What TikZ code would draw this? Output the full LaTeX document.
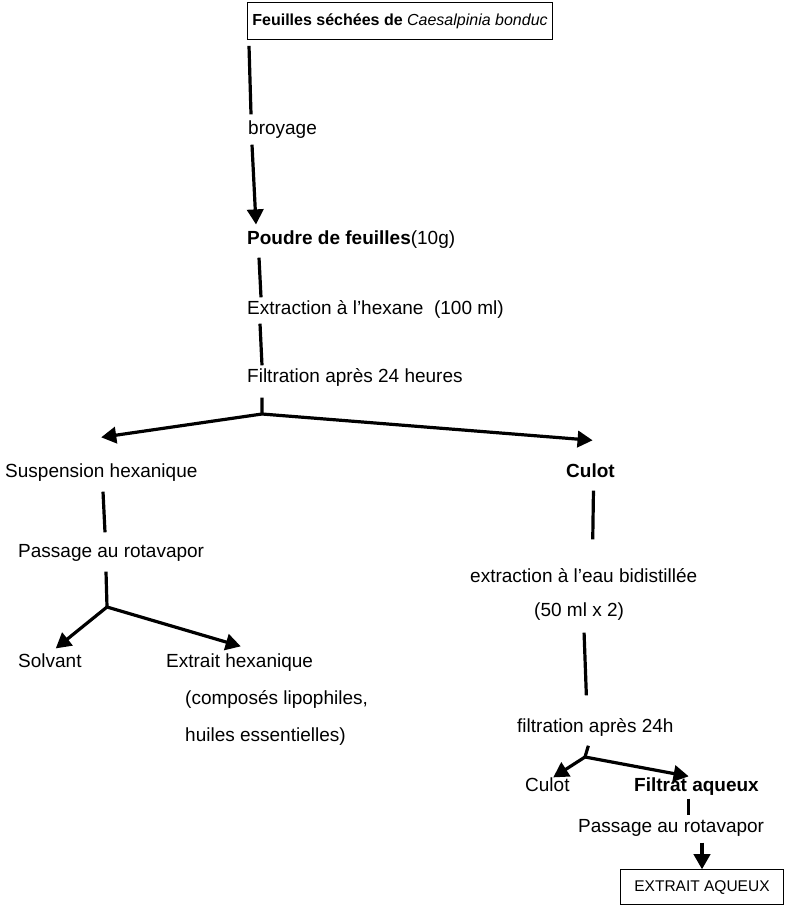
\documentclass[tikz,border=0pt]{standalone}
\usepackage{fontspec}
\setmainfont{Liberation Sans}
\usepackage{tikz}
\usetikzlibrary{arrows,shapes}

\tikzset{
  txt/.style={anchor=west,inner sep=0pt,text height=13bp,text depth=4bp},
  boite/.style={txt,draw,line width=0.8pt,inner xsep=5bp,inner ysep=10bp},
  trait/.style={line width=3.2bp},
  fleche/.style={->,>=triangle 60,line width=3.2bp}
}

\begin{document}
\begin{tikzpicture}[font=\fontsize{19bp}{23bp}\selectfont]
\useasboundingbox (0bp,0bp) rectangle (789bp,-922bp);

\node (Feuilles) at (247bp,-21bp)[boite,font=\fontsize{16bp}{19bp}\selectfont] {\textbf{Feuilles séchées de} \textit{Caesalpinia bonduc}};
\node (Broyage) at (248bp,-130bp)[txt] {broyage};
\node (Poudre) at (247bp,-240bp)[txt] {\textbf{Poudre de feuilles}(10g)};
\node (Hexane) at (247bp,-310bp)[txt] {Extraction à l'hexane~ (100 ml)};
\node (Filtr1) at (247bp,-378bp)[txt] {Filtration après 24 heures};
\coordinate (J1) at (262bp,-414bp);

\node (Susp) at (5bp,-473bp)[txt] {Suspension hexanique};
\node (Rota1) at (18bp,-553bp)[txt] {Passage au rotavapor};
\coordinate (J2) at (107bp,-607bp);
\node (Solvant) at (18bp,-663bp)[txt] {Solvant};
\node (ExHex) at (166bp,-663bp)[txt] {Extrait hexanique};
\node (Lipo) at (185bp,-700bp)[txt] {(composés lipophiles,};
\node (Huiles) at (185bp,-737bp)[txt] {huiles essentielles)};

\node (Culot1) at (566bp,-473bp)[txt] {\textbf{Culot}};
\node (Eau) at (470bp,-578bp)[txt] {extraction à l'eau bidistillée};
\node (Ml) at (534bp,-612bp)[txt] {(50 ml x 2)};
\node (Filtr2) at (517bp,-728bp)[txt] {filtration après 24h};
\coordinate (J3) at (585bp,-757bp);
\node (Culot2) at (525bp,-787bp)[txt] {Culot};
\node (Filtrat) at (634bp,-787bp)[txt] {\textbf{Filtrat aqueux}};
\node (Rota2) at (578bp,-828bp)[txt] {Passage au rotavapor};
\node (Aqueux) at (620bp,-887bp)[boite,inner xsep=14bp,inner ysep=9bp,font=\fontsize{15.5bp}{19bp}\selectfont] {EXTRAIT AQUEUX};

% tronc principal
\draw [trait] ([xshift=2bp,yshift=-6bp]Feuilles.south west) to ([xshift=3bp,yshift=7bp]Broyage.north west);
\draw [fleche] ([xshift=4bp,yshift=-6bp]Broyage.south west) to ([xshift=9bp,yshift=7bp]Poudre.north west);
\draw [trait] ([xshift=12bp,yshift=-9bp]Poudre.south west) to ([xshift=14bp,yshift=4bp]Hexane.north west);
\draw [trait] ([xshift=13bp,yshift=-5bp]Hexane.south west) to ([xshift=15bp,yshift=4bp]Filtr1.north west);
\draw [trait] ([xshift=15bp,yshift=-11bp]Filtr1.south west) to (J1);
\draw [fleche] (J1) to ([xshift=0bp,yshift=27bp]Susp.north);
\draw [fleche] (J1) to ([xshift=2bp,yshift=24bp]Culot1.north);

% branche hexanique
\draw [trait] ([xshift=98bp,yshift=-10bp]Susp.south west) to ([xshift=87bp,yshift=12bp]Rota1.north west);
\draw [trait] ([xshift=88bp,yshift=-10bp]Rota1.south west) to (J2);
\draw [fleche] (J2) to ([xshift=6bp,yshift=6bp]Solvant.north);
\draw [fleche] (J2) to ([xshift=1bp,yshift=8bp]ExHex.north);

% branche aqueuse
\draw [trait] ([xshift=3bp,yshift=-9bp]Culot1.south) to ([xshift=9bp,yshift=30bp]Eau.north);
\draw [trait] ([xshift=5bp,yshift=-12bp]Ml.south) to ([xshift=-9bp,yshift=24bp]Filtr2.north);
\draw [trait] ([xshift=-7bp,yshift=-9bp]Filtr2.south) to (J3);
\draw [fleche] (J3) to ([xshift=6bp,yshift=1bp]Culot2.north);
\draw [fleche] (J3) to ([xshift=-8bp,yshift=2bp]Filtrat.north);
\draw [trait] ([xshift=-8bp,yshift=-3bp]Filtrat.south) to ([xshift=-8bp,yshift=4bp]Filtrat.south |- Rota2.north);
\draw [fleche] ([yshift=-6bp]Rota2.south -| Aqueux.north) to (Aqueux.north);
\end{tikzpicture}
\end{document}
